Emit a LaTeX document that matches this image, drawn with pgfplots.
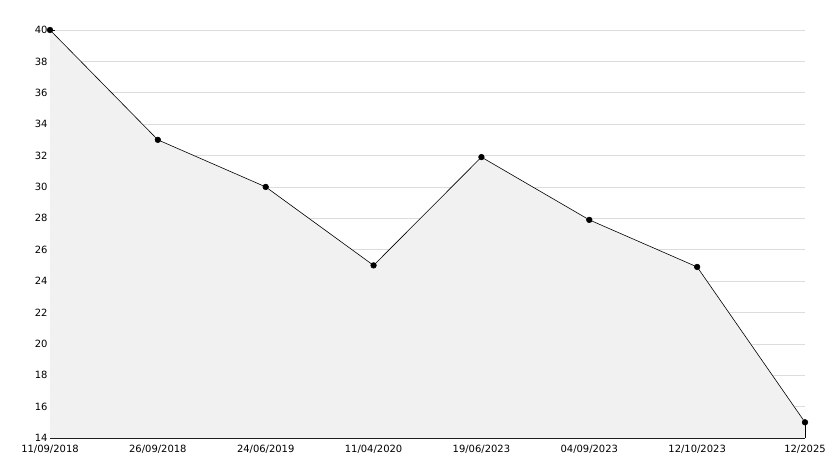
\documentclass[border=0pt]{standalone}
\usepackage{fontspec}
\setmainfont{DejaVu Sans}
\usepackage{pgfplots}
\pgfplotsset{compat=1.18}
\definecolor{fillgray}{HTML}{F1F1F1}
\definecolor{gridgray}{HTML}{DCDCDC}
\begin{document}
\begin{tikzpicture}
\begin{axis}[
  scale only axis,
  width=755bp, height=408bp,
  xmin=0, xmax=7, ymin=14, ymax=40,
  axis x line*=bottom, axis y line*=left,
  axis line style={black, line width=0.8pt, -},
  xtick={0,1,2,3,4,5,6,7},
  xticklabels={11/09/2018,26/09/2018,24/06/2019,11/04/2020,19/06/2023,04/09/2023,12/10/2023,12/2025},
  ytick={14,16,...,40},
  minor y tick num=1,
  tick align=inside,
  major tick length=5bp, minor tick length=3.5bp,
  tick style={black, line width=0.6pt},
  ymajorgrids,
  major grid style={gridgray, line width=0.6pt},
  /pgf/number format/assume math mode=true,
  tick label style={font=\fontsize{10}{12}\selectfont, black},
  xticklabel style={yshift=-3.5bp},
  yticklabel style={xshift=1bp},
  clip=false,
]
\addplot[fill=fillgray, draw=none] coordinates {(0,40)(1,33)(2,30)(3,25)(4,31.9)(5,27.9)(6,24.9)(7,15)} \closedcycle;
\addplot[black, line width=0.6pt] coordinates {(7,14)(7,15)};
\addplot[black, line width=0.6pt, mark=*, mark size=2.8bp, mark options={fill=black}] coordinates {(0,40)(1,33)(2,30)(3,25)(4,31.9)(5,27.9)(6,24.9)(7,15)};
\end{axis}
\pgfresetboundingbox
\path (current axis.south west) ++(-50bp,-30bp) coordinate (bl);
\path (current axis.north east) ++(29bp,30bp) coordinate (tr);
\path[use as bounding box] (bl) rectangle (tr);
\end{tikzpicture}
\end{document}
